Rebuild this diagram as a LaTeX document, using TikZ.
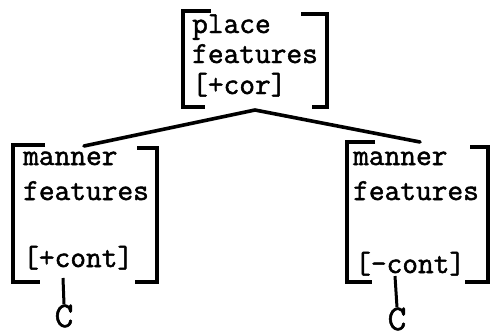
\documentclass[tikz,border=0pt]{standalone}
\usepackage{fontspec}
\setmonofont[FakeBold=1.6]{Latin Modern Mono}
\begin{document}
\begin{tikzpicture}[x=1pt,y=-1pt,
  txt/.style={anchor=base west,inner sep=0pt,font=\ttfamily\fontsize{30.5}{32}\selectfont},
  cc/.style={anchor=base,inner sep=0pt,font=\ttfamily\fontsize{36}{38}\selectfont},
  brk/.style={line width=3.4pt,line cap=butt,line join=miter},
  con/.style={line width=3.6pt,line cap=round}]
\useasboundingbox (0,0) rectangle (490,333);
% top box
\draw[brk] (211,11) -- (183,11) -- (183,107) -- (205,107);
\draw[brk] (301,14) -- (327,14) -- (327,107) -- (312,107);
\node[txt] (p1) at (192,33) {place};
\node[txt] (p2) at (192,63) {features};
\node[txt] (p3) at (192,94) {[+cor]};
% left box
\draw[brk] (45,145) -- (13,145) -- (13,282) -- (40,282);
\draw[brk] (137,148) -- (157,148) -- (157,282) -- (135,282);
\node[txt] (l1) at (23,165) {manner};
\node[txt] (l2) at (23,200) {features};
\node[txt] (l3) at (23,267) {[+cont]};
% right box
\draw[brk] (375,142) -- (347,142) -- (347,282) -- (372,282);
\draw[brk] (470,147) -- (488,147) -- (488,282) -- (465,282);
\node[txt] (r1) at (353,165) {manner};
\node[txt] (r2) at (353,200) {features};
\node[txt] (r3) at (355,273) {[-cont]};
% connectors
\coordinate (apex) at (255,110);
\coordinate (lend) at (84,146);
\coordinate (rend) at (420,142);
\draw[con] (lend) -- (apex) -- (rend);
% C's
\node[cc] (c1) at (64,327) {C};
\node[cc] (c2) at (397,330) {C};
\coordinate (l3b) at (63,278);
\coordinate (r3b) at (395,276);
\draw[line width=3pt] (l3b) -- (c1.north);
\draw[line width=3pt] (r3b) -- (c2.north);
\end{tikzpicture}
\end{document}
